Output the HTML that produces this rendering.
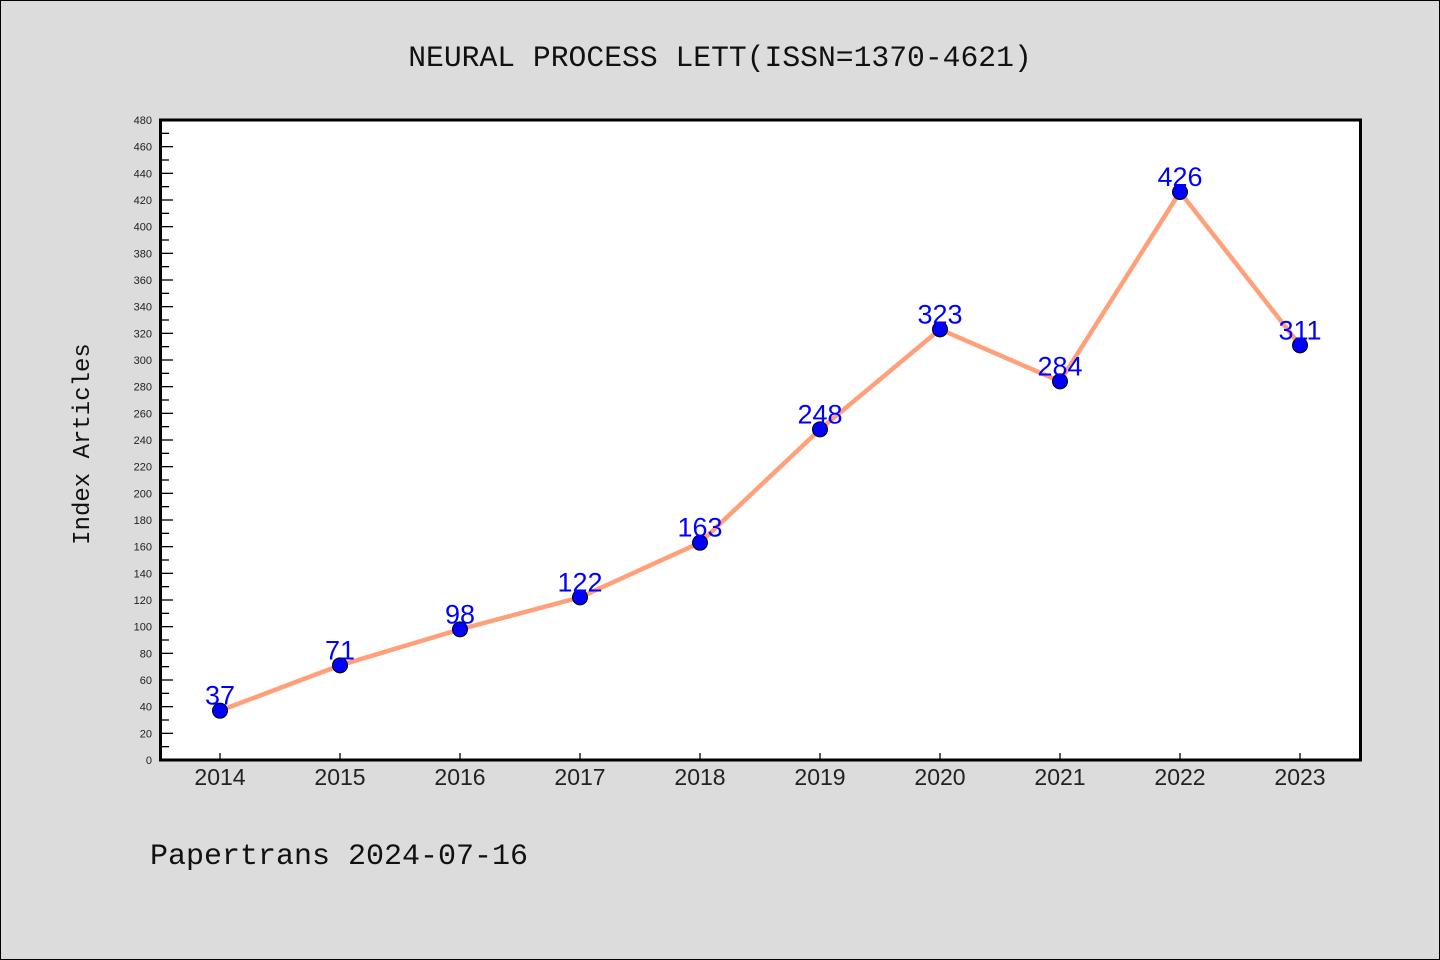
<!DOCTYPE html>
<html><head><meta charset="utf-8"><style>
body{margin:0;background:#dcdcdc;}
svg{display:block}
</style></head><body>
<svg width="1440" height="960" xmlns="http://www.w3.org/2000/svg">
<rect x="0.5" y="0.5" width="1439" height="959" fill="#dcdcdc" stroke="#000"/>
<text x="720" y="66" text-anchor="middle" font-family="Liberation Mono, monospace" font-size="29.7" fill="#111">NEURAL PROCESS LETT(ISSN=1370-4621)</text>
<text x="150" y="864" font-family="Liberation Mono, monospace" font-size="30" fill="#111">Papertrans 2024-07-16</text>
<text transform="translate(89,444) rotate(-90)" text-anchor="middle" font-family="Liberation Mono, monospace" font-size="24" fill="#111">Index Articles</text>
<rect x="160.5" y="120" width="1200" height="640" fill="#fff"/>
<g id="ticks"></g>
<g id="marks"></g>
<rect x="160.5" y="120" width="1200" height="640" fill="none" stroke="#000" stroke-width="3"/>
</svg>
<script>
const years=["2014","2015","2016","2017","2018","2019","2020","2021","2022","2023"];
const counts=[37,71,98,122,163,248,323,284,426,311];
const yMax=480;
const NS="http://www.w3.org/2000/svg";
const x=i=>220+i*120;
const y=v=>760-v*(640/yMax);
function mk(tag,attrs,parent,text){const e=document.createElementNS(NS,tag);for(const k in attrs)e.setAttribute(k,attrs[k]);if(text!==undefined)e.textContent=text;parent.appendChild(e);return e;}
const tg=document.getElementById('ticks');
for(let v=0;v<=yMax;v+=10){
  const major=v%20===0;
  const t=mk('line',{x1:162,x2:major?173:169,y1:y(v),y2:y(v),stroke:'#000','stroke-width':1.3},tg);
  
  
  if(major){const l=mk('text',{x:152,y:y(v)+4,'text-anchor':'end','font-family':'Liberation Sans, sans-serif','font-size':11,fill:'#222'},tg,String(v));
  
  }
}
years.forEach((yr,i)=>{
  const t=mk('line',{x1:x(i),x2:x(i),y1:753,y2:760,stroke:'#000','stroke-width':1.3},tg);
  
  
  const l=mk('text',{x:x(i),y:785,'text-anchor':'middle','font-family':'Liberation Sans, sans-serif','font-size':23,fill:'#222'},tg,yr);
  
  
});
const mg=document.getElementById('marks');
const line=mk('polyline',{points:counts.map((v,i)=>x(i)+','+y(v)).join(' '),fill:'none',stroke:'#ffa07a','stroke-width':4.5,'stroke-linejoin':'round'},mg);


counts.forEach((v,i)=>{
  const c=mk('circle',{cx:x(i),cy:y(v),r:7.5,fill:'#0000ff',stroke:'#000','stroke-width':1},mg);
  
  
  const l=mk('text',{x:x(i),y:y(v)-6,'text-anchor':'middle','font-family':'Liberation Sans, sans-serif','font-size':27,fill:'#0000ff'},mg,String(v));
  
  
});
</script>
</body></html>
